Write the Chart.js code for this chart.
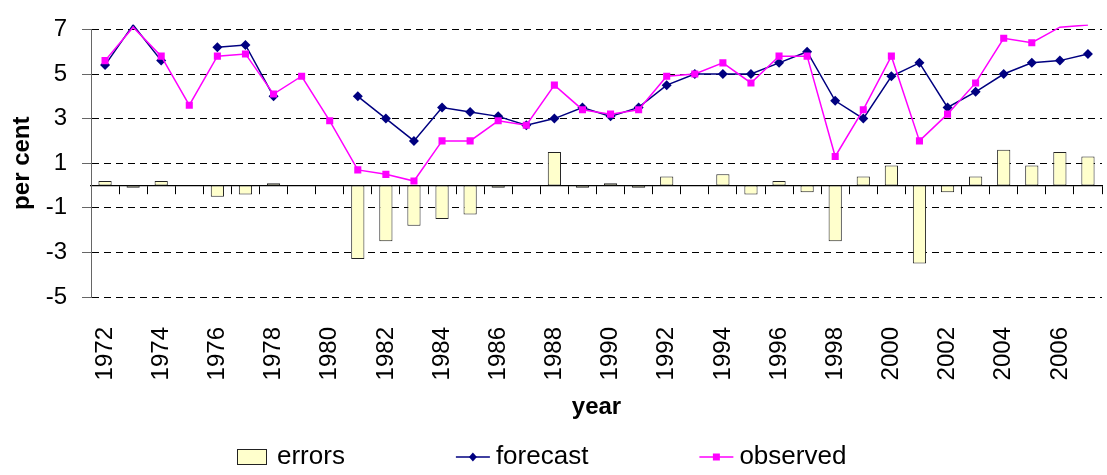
<!DOCTYPE html>
<html>
<head>
<meta charset="utf-8">
<script src="https://cdn.jsdelivr.net/npm/chart.js@4.4.1/dist/chart.umd.min.js"></script>
<style>
  html, body { margin: 0; padding: 0; background: #fff; }
  #wrap { width: 1107px; height: 475px; overflow: hidden; }
</style>
</head>
<body>
<div id="wrap"><canvas id="chart" width="1107" height="475"></canvas></div>
<script>
// Years on the category axis
const years = [1972, 1973, 1974, 1975, 1976, 1977, 1978, 1979, 1980, 1981,
               1982, 1983, 1984, 1985, 1986, 1987, 1988, 1989, 1990, 1991,
               1992, 1993, 1994, 1995, 1996, 1997, 1998, 1999, 2000, 2001,
               2002, 2003, 2004, 2005, 2006, 2007];

// Years that carry a tick label
const labeledYears = [1972, 1974, 1976, 1978, 1980, 1982, 1984, 1986, 1988,
                      1990, 1992, 1994, 1996, 1998, 2000, 2002, 2004, 2006];

// Value-axis ticks (per cent)
const yTicks = [-5, -3, -1, 1, 3, 5, 7];

// Forecast errors (observed minus forecast), per cent
const errors = [0.2, -0.1, 0.2, null, -0.5, -0.4, 0.1, null, null, -3.3,
                -2.5, -1.8, -1.5, -1.3, -0.1, 0.0, 1.5, -0.1, 0.1, -0.1,
                0.4, 0.0, 0.5, -0.4, 0.2, -0.3, -2.5, 0.4, 0.9, -3.5,
                -0.3, 0.4, 1.6, 0.9, 1.5, 1.3];

// Forecast values, per cent
const forecast = [5.4, 7.2, 5.6, null, 6.2, 6.3, 4.0, null, null, 4.0,
                  3.0, 2.0, 3.5, 3.3, 3.1, 2.7, 3.0, 3.5, 3.1, 3.5,
                  4.5, 5.0, 5.0, 5.0, 5.5, 6.0, 3.8, 3.0, 4.9, 5.5,
                  3.5, 4.2, 5.0, 5.5, 5.6, 5.9];

// Observed values, per cent
const observed = [5.6, 7.1, 5.8, 3.6, 5.8, 5.9, 4.1, 4.9, 2.9, 0.7,
                  0.5, 0.2, 2.0, 2.0, 2.9, 2.7, 4.5, 3.4, 3.2, 3.4,
                  4.9, 5.0, 5.5, 4.6, 5.8, 5.8, 1.3, 3.4, 5.8, 2.0,
                  3.2, 4.6, 6.6, 6.4, 7.1, 7.2];

const FONT = '"Liberation Sans", Arial, Helvetica, sans-serif';
const Y_MIN = yTicks[0];
const Y_MAX = yTicks[yTicks.length - 1];

// Markers for points outside the value range are not drawn
const markerRadius = r => ctx => (ctx.raw != null && ctx.raw > Y_MAX ? 0 : r);

// Legend drawn along the bottom edge: swatch, then label
const bottomLegend = {
  id: 'bottomLegend',
  afterDraw(chart, args, opts) {
    const ctx = chart.ctx;
    const y = opts.y;
    let x = opts.left;
    ctx.save();
    ctx.font = opts.fontSize + 'px ' + FONT;
    ctx.textBaseline = 'middle';
    ctx.textAlign = 'left';
    chart.data.datasets.forEach(ds => {
      if (ds.type === 'bar') {
        ctx.fillStyle = ds.backgroundColor;
        ctx.fillRect(x + 0.5, y - 7.5, 29, 15);
        ctx.strokeStyle = ds.borderColor;
        ctx.lineWidth = 1;
        ctx.strokeRect(x + 0.5, y - 7.5, 29, 15);
      } else {
        ctx.strokeStyle = ds.borderColor;
        ctx.lineWidth = ds.borderWidth;
        ctx.beginPath();
        ctx.moveTo(x, y);
        ctx.lineTo(x + 34, y);
        ctx.stroke();
        ctx.fillStyle = ds.pointBackgroundColor;
        const cx = x + 17;
        ctx.beginPath();
        if (ds.pointStyle === 'rectRot') {
          ctx.moveTo(cx, y - 4.5);
          ctx.lineTo(cx + 4, y);
          ctx.lineTo(cx, y + 4.5);
          ctx.lineTo(cx - 4, y);
          ctx.closePath();
        } else {
          ctx.rect(cx - 3.5, y - 3.5, 7, 7);
        }
        ctx.fill();
      }
      x += opts.swatchStep;
      ctx.fillStyle = '#000';
      ctx.fillText(ds.label, x, y);
      x += ctx.measureText(ds.label).width + opts.itemGap;
    });
    ctx.restore();
  }
};

new Chart(document.getElementById('chart'), {
  type: 'bar',
  data: {
    labels: years,
    datasets: [
      {
        type: 'bar',
        label: 'errors',
        data: errors,
        order: 2,
        backgroundColor: '#FFFFCC',
        borderColor: '#222',
        borderWidth: 1,
        borderSkipped: false,
        barPercentage: 0.47,
        categoryPercentage: 1.0
      },
      {
        type: 'line',
        label: 'forecast',
        data: forecast,
        order: 1,
        borderColor: '#000080',
        backgroundColor: '#000080',
        borderWidth: 1.5,
        tension: 0,
        spanGaps: false,
        pointStyle: 'rectRot',
        pointRadius: markerRadius(5),
        pointBackgroundColor: '#000080',
        pointBorderColor: '#000080',
        pointBorderWidth: 0,
        clip: { left: 10, top: 5, right: 10, bottom: 10 }
      },
      {
        type: 'line',
        label: 'observed',
        data: observed,
        order: 0,
        borderColor: '#FF00FF',
        backgroundColor: '#FF00FF',
        borderWidth: 1.5,
        tension: 0,
        pointStyle: 'rect',
        pointRadius: markerRadius(5),
        pointBackgroundColor: '#FF00FF',
        pointBorderColor: '#FF00FF',
        pointBorderWidth: 0,
        clip: { left: 10, top: 5, right: 10, bottom: 10 }
      }
    ]
  },
  options: {
    responsive: false,
    animation: false,
    layout: { padding: { top: 18, left: 0, right: -3, bottom: 45 } },
    plugins: {
      legend: { display: false },
      tooltip: { enabled: false },
      bottomLegend: { left: 237, y: 457, fontSize: 26, swatchStep: 40, itemGap: 111 }
    },
    scales: {
      x: {
        type: 'category',
        position: 'bottom',
        offset: true,
        grid: { display: false },
        border: { display: false },
        ticks: {
          autoSkip: false,
          minRotation: 90,
          maxRotation: 90,
          padding: 22,
          color: '#000',
          font: { family: FONT, size: 24 },
          callback: function (value, index) {
            const yr = years[index];
            return labeledYears.includes(yr) ? String(yr) : '';
          }
        },
        title: {
          display: true,
          text: 'year',
          color: '#000',
          font: { family: FONT, size: 24, weight: 'bold' },
          padding: { top: 0, bottom: 8 }
        },
        afterFit(scale) {
          scale.height = 133;
          scale.paddingLeft = 0;
          scale.paddingRight = 0;
        }
      },
      // Category axis line crossing the value axis at zero, with tick marks below it
      x2: {
        type: 'category',
        position: { y: 0 },
        offset: true,
        grid: {
          display: true,
          offset: true,
          drawOnChartArea: false,
          drawTicks: true,
          tickLength: 8,
          tickColor: '#000',
          tickWidth: 1
        },
        border: { display: true, color: '#000', width: 1.2 },
        ticks: { display: false },
        afterFit(scale) {
          scale.paddingLeft = 0;
          scale.paddingRight = 0;
          scale.paddingTop = 0;
          scale.paddingBottom = 0;
        }
      },
      y: {
        type: 'linear',
        position: 'left',
        min: Y_MIN,
        max: Y_MAX,
        afterBuildTicks(scale) {
          scale.ticks = yTicks.map(v => ({ value: v }));
        },
        grid: {
          display: true,
          color: '#000',
          lineWidth: 1,
          drawTicks: true,
          tickLength: 9,
          tickColor: '#666',
          tickWidth: 1
        },
        border: { display: true, color: '#666', width: 1, dash: [7, 5] },
        ticks: {
          padding: 15,
          color: '#000',
          font: { family: FONT, size: 24 }
        },
        title: {
          display: true,
          text: 'per cent',
          color: '#000',
          font: { family: FONT, size: 24, weight: 'bold' },
          padding: { top: 8, bottom: 0 }
        },
        afterFit(scale) {
          scale.width = 91;
        }
      }
    }
  },
  plugins: [bottomLegend]
});
</script>
</body>
</html>
